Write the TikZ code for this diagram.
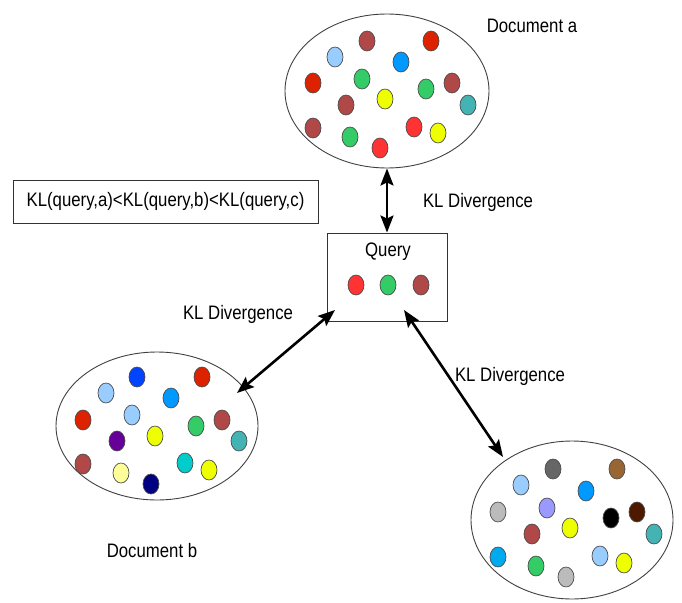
\documentclass[tikz,border=0pt]{standalone}
\usepackage{fontspec}
\setmainfont{Liberation Sans}[FakeStretch=0.86]
\usetikzlibrary{arrows.meta,shapes.geometric}

\definecolor{dotred}{HTML}{FF3333}
\definecolor{dotdarkred}{HTML}{DD2200}
\definecolor{dotbrown}{HTML}{B04848}
\definecolor{dotlightblue}{HTML}{99CCFF}
\definecolor{dotblue}{HTML}{0099FF}
\definecolor{dotroyal}{HTML}{0044FF}
\definecolor{dotsky}{HTML}{00AAEE}
\definecolor{dotgreen}{HTML}{33CC66}
\definecolor{dotyellow}{HTML}{EEFF00}
\definecolor{dotpaleyellow}{HTML}{FFFF99}
\definecolor{dotteal}{HTML}{44B3B3}
\definecolor{dotcyan}{HTML}{00CCCC}
\definecolor{dotpurple}{HTML}{660099}
\definecolor{dotnavy}{HTML}{000080}
\definecolor{dotgray}{HTML}{666666}
\definecolor{dotlightgray}{HTML}{BBBBBB}
\definecolor{dotlavender}{HTML}{9999FF}
\definecolor{dotochre}{HTML}{996633}
\definecolor{dotdarkbrown}{HTML}{4D1A00}

\begin{document}
\begin{tikzpicture}[x=1pt,y=-1pt,<->,>={Stealth[length=17pt,width=13pt,inset=3pt]},
  doc/.style={ellipse,draw=black!75,line width=0.9pt,inner sep=0pt},
  dot/.style={ellipse,draw=black!70,line width=0.7pt,minimum width=16pt,minimum height=20pt,inner sep=0pt},
  lbl/.style={anchor=base,inner sep=0pt,font=\fontsize{19.5}{23}\selectfont},
  link/.style={line width=2.6pt}]
\useasboundingbox (0,0) rectangle (682,602);

% documents and query
\node[doc,minimum width=204pt,minimum height=154pt] (doca) at (387,91) {};
\node[doc,minimum width=202pt,minimum height=148pt] (docb) at (157,426) {};
\node[doc,minimum width=202pt,minimum height=158pt] (docc) at (572,520) {};
\node[draw=black!80,line width=0.9pt,minimum width=120pt,minimum height=88pt] (query) at (387,277) {};
\node[draw=black!80,line width=0.9pt,minimum width=305pt,minimum height=43pt,
      font=\fontsize{19.5}{23}\selectfont] (kl) at (165.5,201.5) {KL(query,a)<KL(query,b)<KL(query,c)};

% labels
\node[lbl] (namea) at (532,33) {Document a};
\node[lbl] (nameb) at (152,557) {Document b};
\node[lbl] (qname) at (388,256) {Query};
\node[lbl] (diva) at (478,207) {KL Divergence};
\node[lbl] (divb) at (238,319) {KL Divergence};
\node[lbl] (divc) at (510,381) {KL Divergence};

% query words
\node[dot,fill=dotred] (q1) at (356,285) {};
\node[dot,fill=dotgreen] (q2) at (388,285) {};
\node[dot,fill=dotbrown] (q3) at (421,285) {};

% words of document a
\node[dot,fill=dotbrown] (a1) at (367,41) {};
\node[dot,fill=dotdarkred] (a2) at (431,41) {};
\node[dot,fill=dotlightblue] (a3) at (335,57) {};
\node[dot,fill=dotblue] (a4) at (401,62) {};
\node[dot,fill=dotdarkred] (a5) at (313,83) {};
\node[dot,fill=dotgreen] (a6) at (362,79) {};
\node[dot,fill=dotgreen] (a7) at (426,89) {};
\node[dot,fill=dotbrown] (a8) at (452,83) {};
\node[dot,fill=dotbrown] (a9) at (346,105) {};
\node[dot,fill=dotyellow] (a10) at (385,99) {};
\node[dot,fill=dotteal] (a11) at (468,105) {};
\node[dot,fill=dotbrown] (a12) at (313,128) {};
\node[dot,fill=dotgreen] (a13) at (350,137) {};
\node[dot,fill=dotred] (a14) at (414,127) {};
\node[dot,fill=dotyellow] (a15) at (438,133) {};
\node[dot,fill=dotred] (a16) at (380,148) {};

% words of document b
\node[dot,fill=dotroyal] (b1) at (137,377) {};
\node[dot,fill=dotdarkred] (b2) at (202,377) {};
\node[dot,fill=dotlightblue] (b3) at (106,393) {};
\node[dot,fill=dotblue] (b4) at (171,398) {};
\node[dot,fill=dotdarkred] (b5) at (83,420) {};
\node[dot,fill=dotlightblue] (b6) at (132,415) {};
\node[dot,fill=dotgreen] (b7) at (196,426) {};
\node[dot,fill=dotbrown] (b8) at (222,420) {};
\node[dot,fill=dotpurple] (b9) at (117,441) {};
\node[dot,fill=dotyellow] (b10) at (155,436) {};
\node[dot,fill=dotteal] (b11) at (239,441) {};
\node[dot,fill=dotbrown] (b12) at (83,464) {};
\node[dot,fill=dotpaleyellow] (b13) at (121,473) {};
\node[dot,fill=dotcyan] (b14) at (185,463) {};
\node[dot,fill=dotyellow] (b15) at (209,470) {};
\node[dot,fill=dotnavy] (b16) at (151,484) {};

% words of document c
\node[dot,fill=dotgray] (c1) at (553,469) {};
\node[dot,fill=dotochre] (c2) at (617,469) {};
\node[dot,fill=dotlightblue] (c3) at (521,485) {};
\node[dot,fill=dotblue] (c4) at (586,491) {};
\node[dot,fill=dotlightgray] (c5) at (498,512) {};
\node[dot,fill=dotlavender] (c6) at (547,508) {};
\node[dot,fill=black] (c7) at (611,518) {};
\node[dot,fill=dotdarkbrown] (c8) at (637,512) {};
\node[dot,fill=dotbrown] (c9) at (532,534) {};
\node[dot,fill=dotyellow] (c10) at (570,528) {};
\node[dot,fill=dotteal] (c11) at (654,534) {};
\node[dot,fill=dotsky] (c12) at (498,557) {};
\node[dot,fill=dotgreen] (c13) at (536,566) {};
\node[dot,fill=dotlightblue] (c14) at (600,556) {};
\node[dot,fill=dotyellow] (c15) at (624,563) {};
\node[dot,fill=dotlightgray] (c16) at (566,577) {};

% divergence arrows
\coordinate (qleft) at (335,310);
\coordinate (qright) at (404,310);
\coordinate (bend) at (237,393);
\coordinate (cend) at (503,457);
\draw[link] (doca.south) -- (query.north);
\draw[link] (qleft) -- (bend);
\draw[link] (qright) -- (cend);
\end{tikzpicture}
\end{document}
